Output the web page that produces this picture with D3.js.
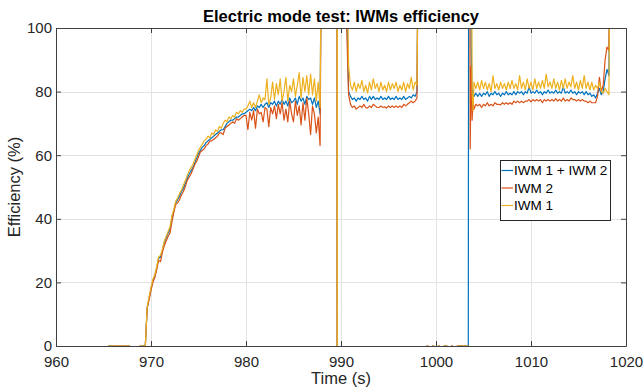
<!DOCTYPE html>
<html>
<head>
<meta charset="utf-8">
<script src="https://cdn.jsdelivr.net/npm/d3@7"></script>
<style>
    html, body { margin: 0; padding: 0; background: #fff; }
    svg { display: block; font-family: "Liberation Sans", Arial, sans-serif; }
</style>
</head>
<body>
<div id="chart"></div>
<script>
// tick labels
const xTicks = [960, 970, 980, 990, 1000, 1010, 1020];
const yTicks = [0, 20, 40, 60, 80, 100];

// legend entries, in plot order (last one is drawn on top)
const seriesNames = ['IWM 1 + IWM 2', 'IWM 2', 'IWM 1'];
const seriesKeys = ['total', 'iwm2', 'iwm1'];

// standstill before the start
const idleStartTimes = [965.5, 967.8];
const idleStartValues = [0, 0];

// speed-up, sampled every 0.2 s from 968.8 s
const rampTotal = [
    0, 0, 0, 0, 12, 15, 18, 20.5, 22, 24.5,
    27.5, 28, 30, 32.5, 34, 35.5, 36.5, 40, 42.5, 45,
    46, 47, 48.5, 49.5, 51, 52.5, 54, 55, 56, 57.5,
    59, 60.5, 61.5, 62.5, 63, 64, 64.5, 65, 65.5, 66,
    66.5, 67, 67.5, 68, 68, 69, 70, 70.5, 71, 71,
    71.5, 72, 72, 72.5, 73, 73,
    73.5, 74, 74.5, 74, 75, 74, 75.5, 75, 76, 75,
    76, 76.5, 75, 76.5, 76, 77, 75.5, 77, 76, 77.5,
    76, 77, 75.5, 78, 76.5, 77, 78, 76, 78.5, 77,
    78, 76, 78.5, 77.5, 78, 76, 78, 75, 77, 73,
    160, 160,
];
const rampIwm2 = [
    0, 0, 0, 0, 12, 14.5, 17.5, 20, 21.5, 24,
    27, 26.5, 29.5, 31.5, 33, 34.5, 35.5, 39, 42, 44.5,
    45, 46, 47.5, 48.5, 50, 52, 53, 54, 55.5, 57,
    58, 59.5, 61, 61.5, 62, 63, 63.5, 64.5, 64.5, 65,
    65.5, 66, 67, 67, 66.5, 68.5, 69, 69.5, 70, 70.5,
    70, 71.5, 71, 71.5, 72, 72.5,
    72.5, 68, 73.5, 71, 74, 68.5, 74.5, 73, 73.5, 70.5,
    75, 74.5, 69, 75, 73, 75.5, 71.5, 76, 73, 76.5,
    71, 74.5, 70.5, 77, 73, 70.5, 77, 72.5, 75.5, 69.5,
    76.5, 71, 78, 73, 66.5, 75.5, 73, 67, 72, 63,
    160, 160,
];
const rampIwm1 = [
    0, 0, 0, 0, 12.5, 15.5, 18.5, 21, 22.5, 25,
    28, 28.5, 30.5, 33, 34.5, 36, 37.5, 41, 43, 45.5,
    46.5, 48, 49, 50.5, 52, 53.5, 55, 56, 57, 58.5,
    60, 61.5, 62.5, 63.5, 64.5, 65, 66, 65.5, 67, 66.5,
    68, 67.5, 69, 68.5, 70, 71, 70.5, 72, 71.5, 72.5,
    72, 73.5, 73, 74, 73.5, 74.5,
    74.5, 75.5, 77, 75, 76.5, 75, 77, 79, 76.5, 78,
    77.5, 84, 76, 78, 83, 77.5, 82.5, 79, 84, 77,
    80, 84.5, 77, 82, 80, 84, 78.5, 82, 86, 78,
    84.5, 80, 85, 79, 85.5, 79, 84, 77, 83, 75,
    160, 160,
];

// short drop to zero around 989.6 s
const dropTimes = [989.58, 989.6, 989.62];
const dropValues = [160, -40, 160];

// first plateau, every 0.2 s from 990.4 s
const plateauOneTotal = [
    160, 110, 80, 78.5, 77.5, 78, 77, 78, 77.5, 78.5,
    77.5, 78, 77, 78.5, 77.5, 78.5, 77.5, 78, 77.5, 78.5,
    77.5, 78, 77.5, 78.5, 77.5, 78, 77.5, 78.5, 77.5, 78,
    77.5, 78.5, 77.5, 78, 78.5, 78, 79, 78.5, 80, 160,
];
const plateauOneIwm2 = [
    160, 100, 79, 76, 75, 75.5, 74.5, 75, 75.5, 75,
    76, 75, 74.8, 75.5, 75, 76, 75.5, 75, 75, 75.5,
    75, 75.2, 74.8, 75.5, 75, 75.5, 75, 75.5, 75, 75.5,
    75, 76, 75.5, 76, 76.5, 77, 76.5, 77, 78, 160,
];
const plateauOneIwm1 = [
    160, 130, 88, 82, 80.5, 83, 80, 82.5, 81, 83.5,
    80, 82, 79.5, 83, 80.5, 84, 81, 82.5, 80, 83,
    80.5, 82, 80, 83, 80.5, 82.5, 81, 83, 80, 82,
    80.5, 83, 80, 82.5, 81, 84.5, 80.5, 83, 82, 160,
];

// idle between the plateaus, every 0.2 s from 998.6 s (gaps are missing samples)
const idleMidValues = [
    0, null, 0, 0, null, 0, 0, null, 0, 0,
    null, 0, 0, 0, null, 0, 0, null, 0, 0,
    0, 0, 0, 0, 0,
];

// restart transient
const restartTimes = [1003.45, 1003.5, 1003.6, 1003.7, 1003.8, 1003.9, 1004.0];
const restartTotal = [200, 200, 200, 95, 78, 80.5, 78.5];
const restartIwm2 = [null, 200, 62, 88, 71, 77, 74.5];
const restartIwm1 = [null, 200, 200, 200, 80, 74, 83];

// second plateau, every 0.2 s from 1004.2 s
const plateauTwoTotal = [
    79.5, 78.5, 79.5, 78.5, 79.5, 79, 80, 78.5, 79.5, 79,
    80, 79, 79.5, 78.5, 79.5, 79, 80, 79, 79.5, 79,
    80, 79, 80, 79.5, 80, 79, 80, 79.5, 81.5, 79.5,
    80, 79.5, 80.5, 79.5, 80, 79, 80, 79.5, 80.5, 79.5,
    80, 79.5, 80.5, 79.5, 80, 79.5, 81.5, 79.5, 80, 79.5,
    80.5, 79.5, 80, 79, 80, 79.5, 80, 79, 80, 79,
    79.5, 78.5, 79, 78, 79.5, 81, 79, 80, 84, 87,
    85, 160,
];
const plateauTwoIwm2 = [
    76, 75.5, 76, 75, 76, 75.5, 76.5, 75.5, 76, 75.5,
    76.5, 76, 76, 75.8, 76.5, 76, 76.5, 76, 76.5, 76,
    77, 76.5, 77, 76.5, 77, 76.5, 77, 77, 77.5, 76.8,
    77.5, 77, 77.5, 77, 77.5, 76.5, 77.5, 77, 77.5, 77,
    77.5, 77, 77.8, 77, 77.5, 77, 78, 77, 77.5, 77,
    78, 77.5, 77.5, 77, 77.5, 77, 77.5, 77, 77, 76.5,
    77, 76.5, 76.5, 76.5, 78.5, 84.5, 80, 82, 90, 94,
    93, 160,
];
const plateauTwoIwm1 = [
    81, 83, 80.5, 83.5, 81, 83, 80.5, 82.5, 80, 85,
    81, 82.5, 80.5, 83, 81, 82.5, 80.5, 83, 81, 83.5,
    81, 82.5, 80.5, 85, 81, 83, 80.5, 84, 81, 83,
    80.5, 84, 81, 83, 81, 83.5, 81, 85.5, 81.5, 83,
    81, 84, 81, 83, 80.5, 83.5, 81, 84, 81, 83,
    81.5, 85, 81, 83, 80.5, 83.5, 81, 85, 81, 83,
    80.5, 83, 80.5, 82, 81, 83, 80, 79.5, 81, 80,
    79, 160,
];

/**
 *
 *
 */
class EfficiencyChart
{
    constructor(containerSelector)
    {
        this.width = 644;
        this.height = 391;

        this.plot = { left: 56, right: 626, top: 28, bottom: 346 };

        this.colors = { total: '#0072BD', iwm2: '#D95319', iwm1: '#EDB120' };

        this.segments = [
            { times: idleStartTimes, total: idleStartValues, iwm2: idleStartValues, iwm1: idleStartValues, gapAfter: true },
            { start: 968.8, step: 0.2, total: rampTotal, iwm2: rampIwm2, iwm1: rampIwm1 },
            { times: dropTimes, total: dropValues, iwm2: dropValues, iwm1: dropValues },
            { start: 990.4, step: 0.2, total: plateauOneTotal, iwm2: plateauOneIwm2, iwm1: plateauOneIwm1, gapAfter: true },
            { start: 998.6, step: 0.2, total: idleMidValues, iwm2: idleMidValues, iwm1: idleMidValues },
            { times: restartTimes, total: restartTotal, iwm2: restartIwm2, iwm1: restartIwm1 },
            { start: 1004.2, step: 0.2, total: plateauTwoTotal, iwm2: plateauTwoIwm2, iwm1: plateauTwoIwm1 },
        ];

        this.x = d3.scaleLinear().domain([960, 1020]).range([this.plot.left, this.plot.right]);
        this.y = d3.scaleLinear().domain([0, 100]).range([this.plot.bottom, this.plot.top]);

        this.svg = d3.select(containerSelector).append('svg')
            .attr('width', this.width)
            .attr('height', this.height);
    }

    render()
    {
        this._renderGrid();
        this._renderLines();
        this._renderAxes();
        this._renderLabels();
        this._renderLegend();
    }

    _points(key)
    {
        const points = [];
        this.segments.forEach(seg => {
            seg[key].forEach((v, i) => {
                const t = seg.times ? seg.times[i] : seg.start + i * seg.step;
                points.push({ t, v });
            });
            if(seg.gapAfter)
                points.push({ t: null, v: null });
        });
        return points;
    }

    _renderGrid()
    {
        const grid = this.svg.append('g').attr('class', 'grid')
            .attr('stroke', '#e3e3e3')
            .attr('stroke-width', 1)
            .attr('shape-rendering', 'crispEdges');

        grid.selectAll('line.gx')
            .data(xTicks)
            .enter()
                .append('line')
                .attr('x1', d => Math.round(this.x(d)) + .5)
                .attr('x2', d => Math.round(this.x(d)) + .5)
                .attr('y1', this.plot.top)
                .attr('y2', this.plot.bottom);

        grid.selectAll('line.gy')
            .data(yTicks)
            .enter()
                .append('line')
                .attr('y1', d => Math.round(this.y(d)) + .5)
                .attr('y2', d => Math.round(this.y(d)) + .5)
                .attr('x1', this.plot.left)
                .attr('x2', this.plot.right);
    }

    _renderLines()
    {
        this.svg.append('clipPath')
            .attr('id', 'plot-clip')
            .append('rect')
                .attr('x', this.plot.left)
                .attr('y', this.plot.top)
                .attr('width', this.plot.right - this.plot.left)
                .attr('height', this.plot.bottom - this.plot.top);

        const line = d3.line()
            .defined(d => d.v !== null)
            .x(d => this.x(d.t))
            .y(d => this.y(d.v));

        this.svg.append('g')
            .attr('clip-path', 'url(#plot-clip)')
            .selectAll('path')
                .data(seriesKeys)
                .enter()
                    .append('path')
                    .attr('fill', 'none')
                    .attr('stroke', key => this.colors[key])
                    .attr('stroke-width', 1.2)
                    .attr('stroke-linejoin', 'round')
                    .attr('d', key => line(this._points(key)));
    }

    _renderAxes()
    {
        const p = this.plot;
        const style = g => {
            g.select('.domain').attr('stroke', '#404040');
            g.selectAll('.tick line').attr('stroke', '#404040');
            g.selectAll('.tick text')
                .attr('fill', '#262626')
                .attr('font-size', '15px')
                .attr('font-family', '"Liberation Sans", Arial, sans-serif');
        };

        this.svg.append('g')
            .attr('transform', `translate(0, ${p.bottom})`)
            .call(d3.axisBottom(this.x).tickValues(xTicks).tickFormat(d3.format('d')).tickSize(-5).tickSizeOuter(0).tickPadding(10))
            .call(style);

        this.svg.append('g')
            .attr('transform', `translate(0, ${p.top})`)
            .call(d3.axisTop(this.x).tickValues(xTicks).tickSize(-5).tickSizeOuter(0).tickFormat(''))
            .call(style);

        this.svg.append('g')
            .attr('transform', `translate(${p.left}, 0)`)
            .call(d3.axisLeft(this.y).tickValues(yTicks).tickFormat(d3.format('d')).tickSize(-5).tickSizeOuter(0).tickPadding(4))
            .call(style);

        this.svg.append('g')
            .attr('transform', `translate(${p.right}, 0)`)
            .call(d3.axisRight(this.y).tickValues(yTicks).tickSize(-5).tickSizeOuter(0).tickFormat(''))
            .call(style);
    }

    _renderLabels()
    {
        const midX = (this.plot.left + this.plot.right) / 2;
        const midY = (this.plot.top + this.plot.bottom) / 2;

        this.svg.append('text')
            .attr('x', midX)
            .attr('y', 22)
            .attr('text-anchor', 'middle')
            .attr('font-size', '16.5px')
            .attr('font-weight', 'bold')
            .attr('fill', '#000')
            .text('Electric mode test: IWMs efficiency');

        this.svg.append('text')
            .attr('x', midX)
            .attr('y', 384)
            .attr('text-anchor', 'middle')
            .attr('font-size', '16.5px')
            .attr('fill', '#262626')
            .text('Time (s)');

        this.svg.append('text')
            .attr('transform', `translate(20, ${midY}) rotate(-90)`)
            .attr('text-anchor', 'middle')
            .attr('font-size', '16.5px')
            .attr('fill', '#262626')
            .text('Efficiency (%)');
    }

    _renderLegend()
    {
        const legend = this.svg.append('g')
            .attr('transform', 'translate(500.5, 160.5)');

        legend.append('rect')
            .attr('width', 110)
            .attr('height', 60)
            .attr('fill', '#fff')
            .attr('stroke', '#262626')
            .attr('stroke-width', 1);

        const rows = legend.selectAll('g.entry')
            .data(seriesKeys)
            .enter()
                .append('g')
                .attr('transform', (key, i) => `translate(0, ${10 + i * 17.5})`);

        rows.append('line')
            .attr('x1', 1)
            .attr('x2', 12.5)
            .attr('stroke', key => this.colors[key])
            .attr('stroke-width', 1.2);

        rows.append('text')
            .attr('x', 13.5)
            .attr('dy', '0.36em')
            .attr('font-size', '13.5px')
            .attr('fill', '#000')
            .text((key, i) => seriesNames[i]);
    }
}

new EfficiencyChart('#chart').render();
</script>
</body>
</html>
